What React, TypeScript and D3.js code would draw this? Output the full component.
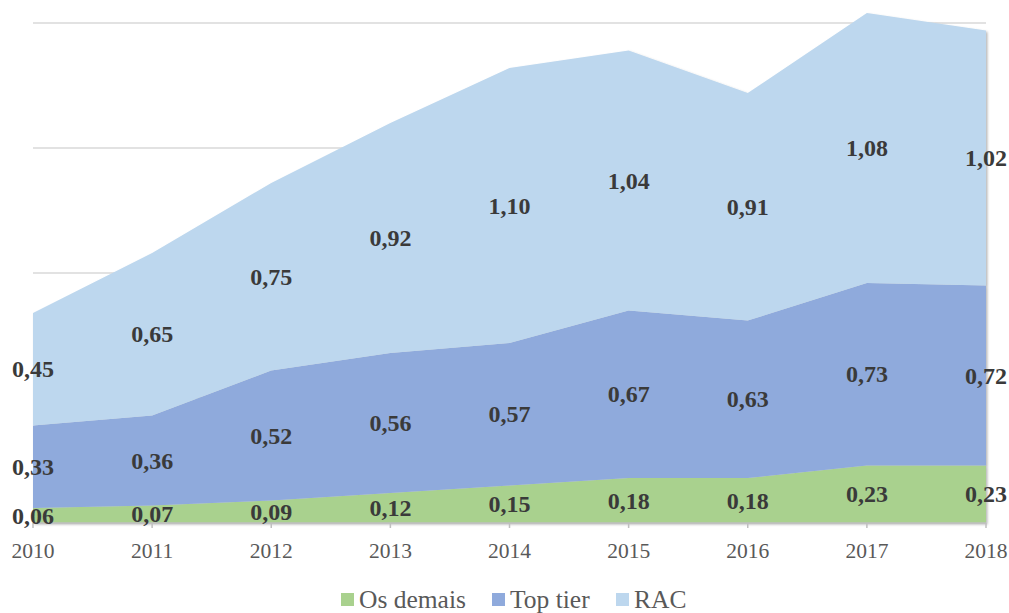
import * as d3 from "d3";

const years = ["2010", "2011", "2012", "2013", "2014", "2015", "2016", "2017", "2018"];
const osDemais = [0.06, 0.07, 0.09, 0.12, 0.15, 0.18, 0.18, 0.23, 0.23];
const topTier = [0.33, 0.36, 0.52, 0.56, 0.57, 0.67, 0.63, 0.73, 0.72];
const rac = [0.45, 0.65, 0.75, 0.92, 1.1, 1.04, 0.91, 1.08, 1.02];
const seriesNames = ["Os demais", "Top tier", "RAC"];
const gridTicks = [0.5, 1.0, 1.5, 2.0];

const colors = ["#A9D18E", "#8FAADC", "#BDD7EE"];
const W = 1009,
  H = 613;

export default function App() {
  const x = d3.scalePoint<string>().domain(years).range([33, 986]);
  const y = d3.scaleLinear().domain([0, 2]).range([523, 23]);

  const rows = years.map((yr, i) => ({
    year: yr,
    s0: osDemais[i],
    s1: topTier[i],
    s2: rac[i],
  }));
  const stack = d3.stack<any>().keys(["s0", "s1", "s2"]);
  const layers = stack(rows);

  const area = d3
    .area<any>()
    .x((d) => x(d.data.year)!)
    .y0((d) => y(d[0]))
    .y1((d) => y(d[1]));

  const fmt = (v: number) => v.toFixed(2).replace(".", ",");

  // legend layout
  const legendX = [341, 492, 616];

  return (
    <svg
      width={W}
      height={H}
      style={{ position: "absolute", left: 0, top: 0, display: "block" }}
      fontFamily="'Liberation Serif', 'Times New Roman', serif"
    >
      <defs>
        <filter id="sh" x="-5%" y="-5%" width="110%" height="110%">
          <feDropShadow dx="1.5" dy="1.5" stdDeviation="1.2" floodColor="#000" floodOpacity="0.28" />
        </filter>
      </defs>
      <rect width={W} height={H} fill="#fff" />
      {gridTicks.map((t) => (
        <line key={t} x1={33} x2={986} y1={y(t)} y2={y(t)} stroke="#d9d9d9" strokeWidth={1.5} />
      ))}
      <g filter="url(#sh)">
        {layers.map((l, i) => (
          <path key={i} d={area(l) || ""} fill={colors[i]} />
        ))}
      </g>
      <line x1={33} x2={986} y1={y(0)} y2={y(0)} stroke="#bfbfbf" strokeWidth={1.5} />
      {years.map((yr) => (
        <g key={yr}>
          <line x1={x(yr)} x2={x(yr)} y1={y(0)} y2={y(0) + 5} stroke="#bfbfbf" strokeWidth={1.5} />
          <text x={x(yr)} y={558} textAnchor="middle" fontSize={21.5} fill="#595959">
            {yr}
          </text>
        </g>
      ))}
      {layers.map((l, i) =>
        l.map((d: any, j: number) => (
          <text
            key={`${i}-${j}`}
            x={x(d.data.year)}
            y={y((d[0] + d[1]) / 2) + 8}
            textAnchor="middle"
            fontSize={24}
            fontWeight="bold"
            fill="#3a3a3a"
          >
            {fmt(d[1] - d[0])}
          </text>
        ))
      )}
      {seriesNames.map((n, i) => (
        <g key={n}>
          <rect x={legendX[i]} y={593} width={13} height={13} fill={colors[i]} />
          <text x={legendX[i] + 18} y={608} fontSize={25.5} fill="#595959">
            {n}
          </text>
        </g>
      ))}
    </svg>
  );
}
